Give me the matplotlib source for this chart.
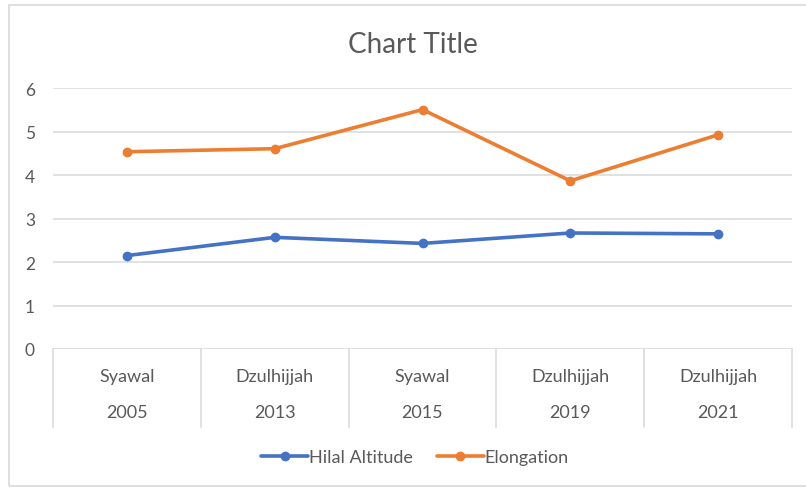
import matplotlib
matplotlib.use("Agg")
import matplotlib.pyplot as plt
from matplotlib.patches import Rectangle
from matplotlib.lines import Line2D
import numpy as np

# --- Datos ---
months = ["Syawal", "Dzulhijjah", "Syawal", "Dzulhijjah", "Dzulhijjah"]
years = ["2005", "2013", "2015", "2019", "2021"]
hilal_altitude = [2.15, 2.57, 2.43, 2.67, 2.65]
elongation = [4.54, 4.61, 5.51, 3.87, 4.93]

BLUE = "#4472C4"
ORANGE = "#ED7D31"
GRID = "#d9d9d9"
TEXT = "#595959"

plt.rcParams['font.family'] = ['Lato', 'DejaVu Sans']

W, H = 806, 489
fig = plt.figure(figsize=(W / 100, H / 100), dpi=100)
fig.patch.set_facecolor("white")

# marco exterior del gráfico
fig.patches.append(Rectangle((9 / W, 1 - 487 / H), 1.0, (487 - 6) / H,
                             transform=fig.transFigure, fill=False,
                             edgecolor="#d9d9d9", linewidth=1.2))

left, right, top, bottom = 53, 792, 89.3, 350
ax = fig.add_axes([left / W, 1 - bottom / H, (right - left) / W, (bottom - top) / H])

x = np.arange(len(years))
ax.plot(x, hilal_altitude, color=BLUE, linewidth=2.6, marker="o", markersize=6,
        label="Hilal Altitude", solid_capstyle="round", zorder=3)
ax.plot(x, elongation, color=ORANGE, linewidth=2.6, marker="o", markersize=6,
        label="Elongation", solid_capstyle="round", zorder=3)

ax.set_xlim(-0.5, len(years) - 0.5)
ax.set_ylim(0, 6)
ax.set_yticks(range(0, 7))
ax.yaxis.grid(True, color=GRID, linewidth=1.1)
ax.set_axisbelow(True)
for s in ax.spines.values():
    s.set_visible(False)
ax.tick_params(axis="y", length=0, pad=13, labelsize=12.5, labelcolor=TEXT)
ax.tick_params(axis="x", length=0, labelbottom=False)

# tabla de categorías (mes / año) bajo el eje
trans = ax.get_xaxis_transform()
table_bottom = -(428 - 350) / (bottom - top)
for b in np.arange(-0.5, len(years), 1.0):
    ax.add_line(Line2D([b, b], [0, table_bottom], transform=trans, color=GRID,
                       linewidth=1.1, clip_on=False))
for i, (m, yv) in enumerate(zip(months, years)):
    ax.text(i, -(377 - 350) / (bottom - top), m, transform=trans, ha="center",
            va="center", fontsize=13, color=TEXT)
    ax.text(i, -(413 - 350) / (bottom - top), yv, transform=trans, ha="center",
            va="center", fontsize=13, color=TEXT)

fig.text(413 / W, 1 - 45 / H, "Chart Title", ha="center", va="center",
         fontsize=20, color=TEXT)

fig.legend(loc="center", bbox_to_anchor=(415 / W, 1 - 458 / H), ncol=2, frameon=False,
           fontsize=13, labelcolor=TEXT, handlelength=2.6, handletextpad=0.05,
           columnspacing=1.3)

fig.savefig("out.png", dpi=100)
